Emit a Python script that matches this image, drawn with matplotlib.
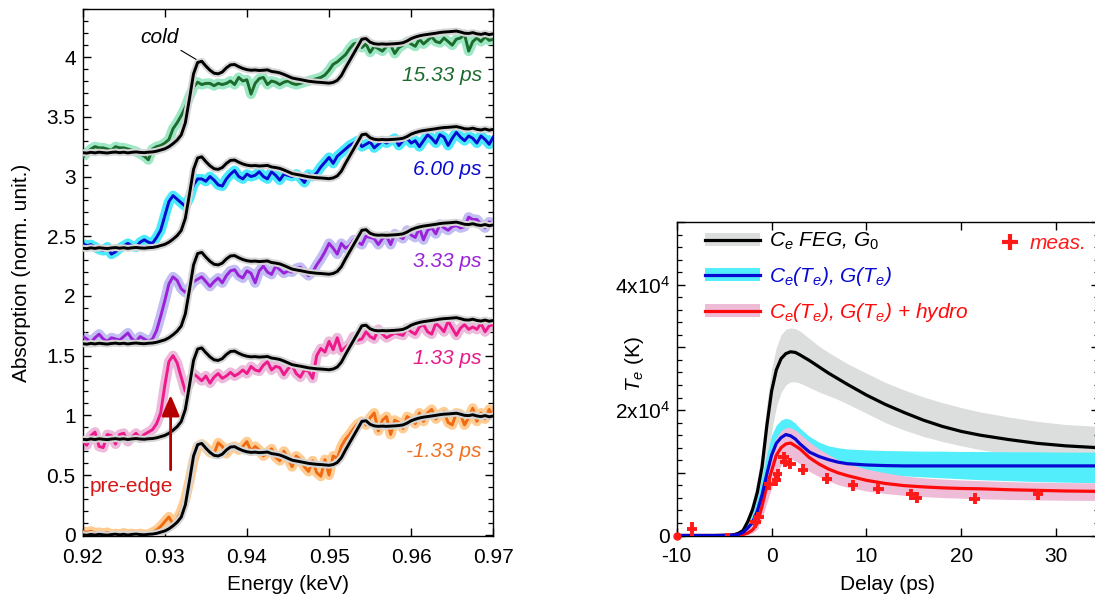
import numpy as np
import matplotlib
matplotlib.use('Agg')
import matplotlib.pyplot as plt
from matplotlib.patches import Patch
from matplotlib.lines import Line2D
import matplotlib.patheffects as pe
from matplotlib.ticker import MultipleLocator, FuncFormatter

plt.rcParams['font.family'] = ['Liberation Sans', 'DejaVu Sans']
plt.rcParams['mathtext.fontset'] = 'custom'
plt.rcParams['mathtext.rm'] = 'Liberation Sans'
plt.rcParams['mathtext.it'] = 'Liberation Sans:italic'
plt.rcParams['mathtext.bf'] = 'Liberation Sans:bold'
plt.rcParams['font.size'] = 15
plt.rcParams['axes.linewidth'] = 1.0

# ---------------- left panel data ----------------
energy = np.round(np.arange(0.920, 0.97001, 0.0005), 4)   # keV, 101 points

cold = [0.000, -0.004, 0.003, -0.002, 0.004, 0.000, -0.003, 0.002, 0.005, 0.000,
        0.004, -0.002, 0.003, 0.006, 0.002, 0.000, 0.004, 0.006, 0.012, 0.022,
        0.032, 0.050, 0.075, 0.105, 0.148, 0.250, 0.450, 0.660, 0.755, 0.765,
        0.725, 0.690, 0.665, 0.660, 0.675, 0.710, 0.735, 0.738, 0.720, 0.705,
        0.695, 0.690, 0.692, 0.688, 0.690, 0.693, 0.680, 0.675, 0.668, 0.655,
        0.640, 0.625, 0.618, 0.612, 0.605, 0.598, 0.594, 0.590, 0.588, 0.585,
        0.582, 0.588, 0.605, 0.645, 0.710, 0.770, 0.830, 0.890, 0.950, 0.955,
        0.925, 0.912, 0.908, 0.910, 0.908, 0.910, 0.912, 0.915, 0.920, 0.935,
        0.955, 0.968, 0.978, 0.985, 0.990, 0.995, 1.000, 1.006, 1.010, 1.012,
        1.015, 1.018, 1.010, 1.000, 0.998, 1.005, 0.995, 0.990, 0.998, 0.988,
        0.995]

spec_m133 = [0.03, 0.02, 0.03, 0.015, 0.02, 0.01, 0.02, 0.0, 0.01, 0.0,
             0.015, 0.005, 0.01, 0.0, 0.01, 0.0, 0.005, 0.02, 0.04, 0.07,
             0.11, 0.15, 0.09, 0.13, 0.2, 0.3, 0.45, 0.62, 0.74, 0.76,
             0.73, 0.69, 0.68, 0.77, 0.74, 0.68, 0.73, 0.74, 0.71, 0.74,
             0.78, 0.70, 0.74, 0.71, 0.66, 0.69, 0.72, 0.65, 0.62, 0.70,
             0.64, 0.57, 0.66, 0.63, 0.57, 0.53, 0.62, 0.52, 0.49, 0.63,
             0.50, 0.66, 0.64, 0.74, 0.80, 0.84, 0.89, 0.93, 0.95, 0.92,
             0.98, 1.02, 0.87, 0.96, 0.99, 0.84, 0.96, 0.94, 0.89, 0.99,
             0.97, 0.93, 1.02, 0.95, 1.02, 1.05, 0.97, 1.01, 1.03, 0.94,
             0.92, 1.02, 1.01, 0.92, 0.98, 1.06, 0.95, 1.02, 0.97, 1.05,
             0.99]

spec_p133 = [-0.02, -0.05, 0.03, 0.06, -0.06, -0.07, 0.04, 0.03, -0.04, 0.04,
             0.05, -0.02, 0.02, 0.05, 0.01, 0.04, 0.06, 0.08, 0.13, 0.22,
             0.45, 0.65, 0.70, 0.64, 0.52, 0.40, 0.47, 0.55, 0.52, 0.49,
             0.53, 0.47, 0.52, 0.55, 0.51, 0.53, 0.56, 0.53, 0.55, 0.58,
             0.55, 0.61, 0.58, 0.57, 0.62, 0.65, 0.58, 0.61, 0.60, 0.54,
             0.59, 0.62, 0.55, 0.52, 0.58, 0.57, 0.51, 0.70, 0.76, 0.73,
             0.82, 0.75, 0.85, 0.74, 0.77, 0.80, 0.86, 0.83, 0.84, 0.90,
             0.86, 0.84, 0.92, 0.88, 0.85, 0.87, 0.89, 0.88, 0.87, 0.93,
             0.90, 0.88, 0.94, 0.96, 0.90, 0.88, 0.97, 0.94, 0.90, 0.99,
             0.93, 0.87, 0.93, 0.96, 0.92, 0.94, 0.92, 0.97, 0.90, 0.95,
             0.96]

spec_p333 = [0.06, 0.04, 0.01, 0.05, 0.08, 0.04, 0.02, 0.05, 0.04, 0.03,
             0.06, 0.09, 0.04, 0.02, 0.06, 0.04, 0.02, 0.04, 0.11, 0.23,
             0.36, 0.50, 0.56, 0.53, 0.46, 0.43, 0.47, 0.52, 0.54, 0.56,
             0.52, 0.48, 0.52, 0.55, 0.51, 0.57, 0.61, 0.62, 0.57, 0.55,
             0.61, 0.59, 0.51, 0.61, 0.65, 0.60, 0.58, 0.65, 0.62, 0.59,
             0.61, 0.60, 0.63, 0.64, 0.60, 0.57, 0.60, 0.66, 0.71, 0.77,
             0.84, 0.80, 0.75, 0.84, 0.80, 0.82, 0.87, 0.85, 0.83, 0.90,
             0.89, 0.88, 0.83, 0.88, 0.90, 0.83, 0.92, 0.90, 0.88, 0.95,
             0.91, 0.89, 0.97, 0.87, 0.95, 0.97, 0.92, 1.00, 0.97, 0.95,
             0.98, 0.99, 0.97, 0.98, 1.06, 1.04, 1.04, 1.00, 0.97, 1.02,
             1.00]

spec_p600 = [0.04, 0.02, 0.03, 0.01, -0.01, -0.02, 0.01, -0.05, -0.03, 0.0,
             0.02, 0.04, 0.02, 0.01, 0.05, 0.07, 0.05, 0.04, 0.09, 0.15,
             0.27, 0.39, 0.44, 0.41, 0.38, 0.35, 0.42, 0.53, 0.58, 0.58,
             0.56, 0.60, 0.57, 0.53, 0.52, 0.58, 0.62, 0.65, 0.60, 0.58,
             0.62, 0.60, 0.61, 0.64, 0.60, 0.58, 0.64, 0.61, 0.57, 0.62,
             0.61, 0.60, 0.62, 0.59, 0.55, 0.62, 0.60, 0.63, 0.68, 0.72,
             0.76, 0.71, 0.77, 0.80, 0.83, 0.86, 0.88, 0.90, 0.85, 0.87,
             0.89, 0.84, 0.87, 0.90, 0.88, 0.90, 0.92, 0.86, 0.90, 0.92,
             0.88, 0.90, 0.85, 0.90, 0.95, 0.92, 0.88, 0.95, 0.93, 0.86,
             0.92, 0.97, 0.93, 0.90, 0.94, 0.92, 0.88, 0.94, 0.91, 0.87,
             0.93]

spec_p1533 = [-0.04, 0.0, 0.03, 0.05, 0.04, 0.04, 0.03, 0.02, 0.05, 0.04,
              0.04, 0.03, 0.02, 0.01, -0.01, -0.03, -0.06, 0.03, 0.05, 0.06,
              0.08, 0.11, 0.20, 0.25, 0.31, 0.38, 0.47, 0.55, 0.59, 0.57,
              0.58, 0.58, 0.56, 0.58, 0.57, 0.58, 0.60, 0.57, 0.63, 0.60,
              0.61, 0.49, 0.58, 0.62, 0.63, 0.57, 0.60, 0.59, 0.57, 0.59,
              0.60, 0.58, 0.57, 0.58, 0.59, 0.60, 0.61, 0.62, 0.63, 0.65,
              0.69, 0.74, 0.76, 0.79, 0.82, 0.87, 0.91, 0.92, 0.88, 0.91,
              0.84, 0.89, 0.87, 0.85, 0.89, 0.90, 0.83, 0.88, 0.90, 0.93,
              0.91, 0.89, 0.95, 0.91, 0.94, 0.97, 0.93, 0.92, 0.96, 0.93,
              0.90, 0.95, 0.96, 0.99, 0.85, 0.93, 0.96, 0.93, 0.97, 0.94,
              0.95]

spectra = [spec_m133, spec_p133, spec_p333, spec_p600, spec_p1533]
delay_labels = ['-1.33 ps', '1.33 ps', '3.33 ps', '6.00 ps', '15.33 ps']
offsets = [0.0, 0.8, 1.6, 2.4, 3.2]
line_colors = ['#f06a12', '#ee1a8c', '#9a22d8', '#0a0ad0', '#1d6b2c']
band_colors = ['#ffcd93', '#ecbadb', '#c2bdf2', '#4ae9fb', '#9ee8c6']
label_colors = ['#f07020', '#e8188a', '#9b22d8', '#0a0ad0', '#1d6b2c']

# ---------------- right panel data ----------------
delay = [-10, -6, -4.5, -4, -3.5, -3, -2.5, -2, -1.5, -1,
         -0.5, 0, 0.5, 1, 1.5, 2, 2.5, 3, 4, 5,
         6, 7, 8, 10, 12, 14, 16, 18, 20, 22,
         25, 28, 31, 34.5]
te_feg = [0, 0, 50, 120, 350, 800, 2250, 4150, 6900, 11000,
          17500, 23000, 26400, 28200, 29000, 29300, 29200, 28800, 27900, 26900,
          25900, 25000, 24100, 22400, 20900, 19600, 18400, 17400, 16600, 16000,
          15300, 14700, 14300, 14000]
te_feg_hi = [0, 0, 100, 200, 600, 1500, 3000, 5500, 9000, 14000,
             21000, 26500, 30000, 32000, 32900, 33100, 33000, 32600, 31400, 30200,
             29200, 28300, 27400, 25900, 24400, 23200, 22100, 21200, 20400, 19700,
             18900, 18200, 17700, 17400]
te_feg_lo = [0, 0, 20, 50, 200, 500, 1200, 2500, 4500, 7300,
             11500, 16500, 20500, 22800, 24000, 24500, 24500, 24300, 23600, 22900,
             22300, 21700, 21000, 19500, 18000, 16800, 15800, 15000, 14300, 13700,
             13000, 12400, 11900, 11500]
te_tdep = [0, 0, 20, 60, 180, 500, 1200, 2100, 3900, 6500,
           9800, 12800, 14700, 15600, 16100, 15900, 15400, 14600, 13300, 12600,
           12100, 11700, 11450, 11250, 11150, 11100, 11100, 11100, 11100, 11100,
           11100, 11100, 11100, 11100]
te_tdep_hi = [0, 0, 50, 100, 350, 900, 1900, 3500, 6000, 9500,
              13000, 16000, 17600, 18400, 18700, 18500, 17900, 17100, 15800, 14900,
              14300, 14000, 13800, 13650, 13550, 13500, 13450, 13450, 13400, 13400,
              13350, 13350, 13300, 13300]
te_tdep_lo = [0, 0, 10, 30, 100, 300, 650, 1200, 2200, 4200,
              7000, 10200, 12200, 13200, 13600, 13500, 13100, 12600, 11700, 11000,
              10600, 10300, 10100, 9900, 9700, 9500, 9350, 9200, 9050, 8900,
              8750, 8600, 8500, 8400]
te_hydro = [0, 0, 10, 30, 90, 150, 400, 900, 1950, 4700,
            7900, 10300, 12800, 14000, 14600, 14750, 14300, 13800, 12400, 11400,
            10600, 10000, 9550, 8800, 8300, 7950, 7750, 7600, 7500, 7450,
            7300, 7200, 7100, 7040]
te_hydro_hi = [0, 0, 30, 80, 250, 600, 1100, 2000, 3500, 6800,
               10500, 13500, 15600, 16700, 17200, 17200, 16800, 16200, 14900, 13800,
               12900, 12100, 11500, 10600, 10000, 9500, 9200, 9000, 8850, 8750,
               8600, 8500, 8450, 8400]
te_hydro_lo = [0, 0, 0, 0, 20, 50, 150, 400, 1000, 2700,
               5200, 7500, 9800, 11200, 12000, 12200, 11900, 11400, 10200, 9400,
               8700, 8100, 7700, 7100, 6700, 6400, 6200, 6050, 5950, 5850,
               5750, 5680, 5620, 5600]

meas_t = [-8.4, -4.65, -1.7, -1.4, -0.23, 0.5, 0.65, 1.28, 1.46, 1.99,
          3.3, 5.87, 8.58, 11.27, 14.7, 15.3, 21.4, 28.1]
meas_T = [1070, 100, 2100, 2900, 8160, 8800, 9760, 12530, 11730, 11470,
          10500, 9070, 8000, 7470, 6560, 6030, 5870, 6560]
meas_xerr = [0.5, 0.3, 0.55, 0.55, 0.55, 0.45, 0.45, 0.55, 0.55, 0.55,
             0.55, 0.55, 0.55, 0.55, 0.55, 0.55, 0.55, 0.55]
meas_yerr = [1150, 150, 850, 850, 850, 850, 850, 850, 850, 850,
             850, 850, 850, 850, 850, 850, 850, 850]
ref_t = [-10]
ref_T = [0]

# ---------------- figure ----------------
fig = plt.figure(figsize=(10.95, 5.98), dpi=100)

# ===== left panel =====
axL = fig.add_axes([0.0755, 0.1037, 0.375, 0.8807])
for spec, off, bc in zip(spectra, offsets, band_colors):
    y = np.array(spec) + off
    axL.plot(energy[:len(y)], y, color=bc, lw=7.2, solid_joinstyle='round',
             solid_capstyle='butt', zorder=2)
for spec, off, lc in zip(spectra, offsets, line_colors):
    y = np.array(spec) + off
    axL.plot(energy[:len(y)], y, color=lc, lw=2.1, solid_joinstyle='round', zorder=3)
for off in offsets:
    y = np.array(cold) + off
    axL.plot(energy[:len(y)], y, color='black', lw=2.1, zorder=5,
             path_effects=[pe.Stroke(linewidth=5.0, foreground='#d6d6d6'), pe.Normal()])

for lab, lcol, ly in zip(delay_labels, label_colors, [0.70, 1.48, 2.29, 3.06, 3.85]):
    axL.text(0.9686, ly, lab, color=lcol, fontsize=15, style='italic',
             ha='right', va='center', zorder=6)

axL.annotate('cold', xy=(0.93395, 3.975), xytext=(0.9293, 4.165),
             fontsize=15, style='italic', ha='center', va='center',
             arrowprops=dict(arrowstyle='-', lw=0.8, color='black', shrinkA=1, shrinkB=1),
             zorder=7)
axL.annotate('', xy=(0.93071, 1.17), xytext=(0.93071, 0.545),
             arrowprops=dict(arrowstyle='-|>,head_length=0.7,head_width=0.3',
                             lw=2.0, color='#b40000', mutation_scale=18,
                             shrinkA=0, shrinkB=0), zorder=7)
axL.text(0.92596, 0.405, 'pre-edge', color='#d41818', fontsize=15,
         ha='center', va='center', zorder=7)

axL.set_xlim(0.92, 0.97)
axL.set_ylim(-0.01, 4.40)
axL.xaxis.set_major_locator(MultipleLocator(0.01))
axL.yaxis.set_major_locator(MultipleLocator(0.5))
axL.yaxis.set_minor_locator(MultipleLocator(0.1))
axL.xaxis.set_major_formatter(FuncFormatter(lambda v, p: f'{v:.2f}'))
axL.yaxis.set_major_formatter(FuncFormatter(lambda v, p: f'{v:g}'))
axL.tick_params(which='both', direction='in', top=True, right=True, labelsize=15)
axL.tick_params(which='major', length=6, width=1.0)
axL.tick_params(axis='x', which='major', pad=8.5)
axL.tick_params(axis='y', which='major', pad=5)
axL.tick_params(which='minor', length=3.5, width=0.9)
axL.set_xlabel('Energy (keV)', fontsize=15, labelpad=6)
axL.set_ylabel('Absorption (norm. unit.)', fontsize=15, labelpad=11)

# ===== right panel =====
axR = fig.add_axes([0.618, 0.1045, 0.3855, 0.5243])
axR.fill_between(delay, te_feg_lo, te_feg_hi, color='#dcdddd', lw=0, zorder=1)
axR.fill_between(delay, te_tdep_lo, te_tdep_hi, color='#52eefb', lw=0, zorder=2)
axR.fill_between(delay, te_hydro_lo, te_hydro_hi, color='#efbcd8', lw=0, zorder=3)
axR.plot(delay, te_feg, color='black', lw=2.3, zorder=4)
axR.plot(delay, te_hydro, color='#ff0a0a', lw=2.3, zorder=5)
axR.plot(delay, te_tdep, color='#0808d2', lw=2.3, zorder=6)
axR.errorbar(meas_t, meas_T, xerr=meas_xerr, yerr=meas_yerr, fmt='none',
             ecolor='#ff1a1a', elinewidth=2.8, capsize=0, zorder=8)
axR.plot(ref_t, ref_T, 'o', color='#ff1a1a', ms=5, zorder=9, clip_on=False)

axR.set_xlim(-10, 34.5)
axR.set_ylim(0, 50000)
axR.xaxis.set_major_locator(MultipleLocator(10))
axR.yaxis.set_major_locator(MultipleLocator(10000))
axR.yaxis.set_minor_locator(MultipleLocator(2000))


def te_fmt(v, p):
    if abs(v) < 1:
        return '0'
    if int(round(v)) % 20000 == 0:
        return f'{int(round(v / 10000))}x10$^4$'
    return ''


axR.yaxis.set_major_formatter(FuncFormatter(te_fmt))
axR.xaxis.set_major_formatter(FuncFormatter(lambda v, p: f'{v:g}'))
axR.tick_params(which='both', direction='in', top=True, right=True, labelsize=15)
axR.tick_params(which='major', length=6, width=1.0)
axR.tick_params(axis='x', which='major', pad=8.5)
axR.tick_params(axis='y', which='major', pad=5)
axR.tick_params(which='minor', length=3.5, width=0.9)
axR.set_xlabel('Delay (ps)', fontsize=15, labelpad=6)
axR.set_ylabel(r'$T_e$ (K)', fontsize=15)
axR.yaxis.set_label_coords(-0.072, 0.545)

handles = [(Patch(facecolor='#dcdddd', edgecolor='none'), Line2D([], [], color='black', lw=2.3)),
           (Patch(facecolor='#52eefb', edgecolor='none'), Line2D([], [], color='#0808d2', lw=2.3)),
           (Patch(facecolor='#efbcd8', edgecolor='none'), Line2D([], [], color='#ff0a0a', lw=2.3))]
labels = [r'$C_e$ FEG, $G_\mathit{0}$',
          r'$C_e$($T_e$), $G$($T_e$)',
          r'$C_e$($T_e$), $G$($T_e$) + hydro']
leg = axR.legend(handles, labels, loc='upper left', bbox_to_anchor=(0.067, 0.972),
                 frameon=False, handlelength=2.65, handleheight=0.62,
                 handletextpad=0.4, labelspacing=0.62, borderpad=0, borderaxespad=0,
                 prop={'style': 'italic', 'size': 15})
for txt, col in zip(leg.get_texts(), ['black', '#0808d2', '#ff0a0a']):
    txt.set_color(col)
axR.add_artist(leg)

leg2 = axR.legend([Line2D([], [], ls='none', marker='+', ms=12, mew=3, color='#ff1a1a')],
                  ['meas.'], loc='upper left', bbox_to_anchor=(0.765, 0.962),
                  frameon=False, handlelength=1.0, handletextpad=0.45, borderpad=0,
                  borderaxespad=0, prop={'style': 'italic', 'size': 15})
for txt in leg2.get_texts():
    txt.set_color('#ff1a1a')

fig.savefig('out.png', dpi=100)
